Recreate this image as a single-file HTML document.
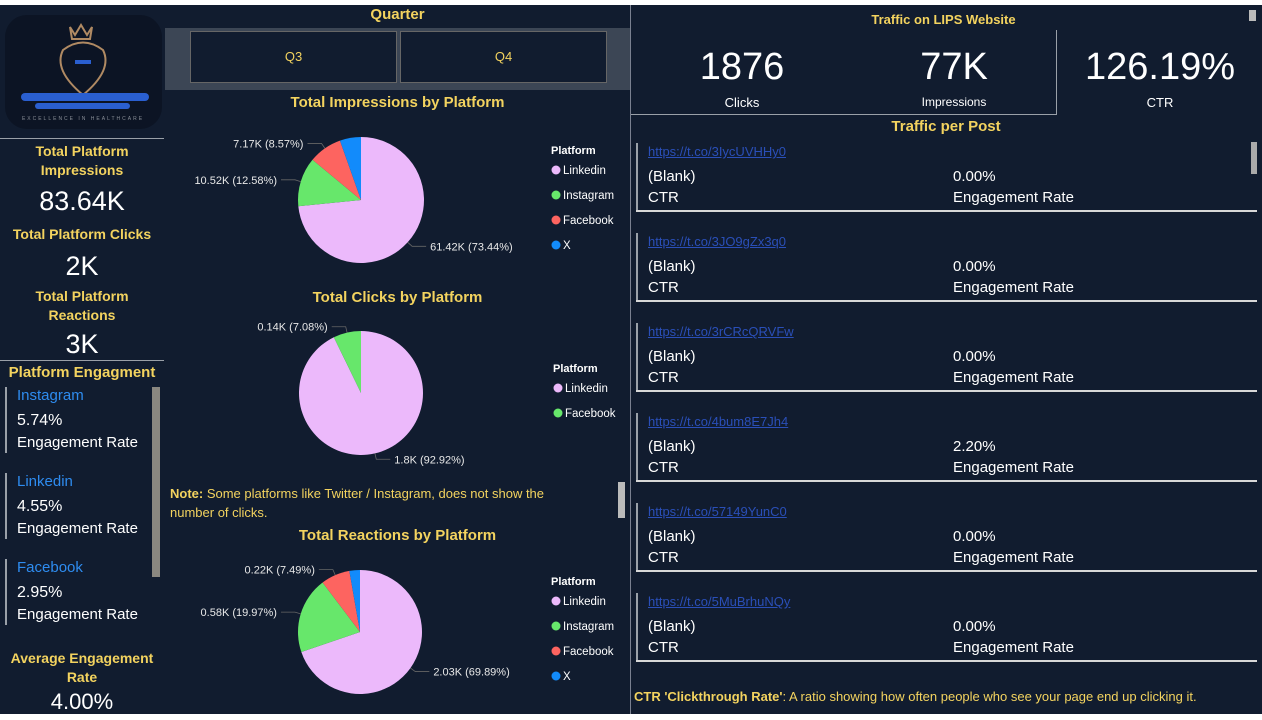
<!DOCTYPE html>
<html><head><meta charset="utf-8">
<style>
*{margin:0;padding:0;box-sizing:border-box}
body{width:1262px;height:720px;background:#fff;position:relative;overflow:hidden;font-family:"Liberation Sans","DejaVu Sans",sans-serif}
#bg{position:absolute;left:0;top:5px;width:1262px;height:709px;background:#111c2f}
.t{position:absolute;white-space:nowrap}
.y{color:#f3d35f;font-weight:bold}
.w{color:#fff}
.c{text-align:center}
.ln{position:absolute;background:#9aa0a8}
</style></head><body>
<div id="bg"></div>

<!-- left column -->
<div style="position:absolute;left:5px;top:15px;width:157px;height:114px;background:#0c1424;border-radius:22px">
 <svg width="157" height="114"><path d="M65 12 l5 8 l6 -10 l6 10 l5 -8 l-2 12 h-18z M58 35 q20 -15 40 0 q10 20 -20 45 q-30 -25 -20 -45z" fill="none" stroke="#b08a63" stroke-width="2"/><rect x="70" y="45" width="16" height="4" fill="#2a5fd0"/><rect x="16" y="78" width="128" height="8" rx="4" fill="#2a5fd0"/><rect x="30" y="88" width="95" height="6" rx="3" fill="#2a5fd0"/><text x="78" y="105" fill="#8a8f98" font-size="5" text-anchor="middle" letter-spacing="2">EXCELLENCE IN HEALTHCARE</text></svg>
</div>
<div class="ln" style="left:0;top:138px;width:164px;height:1px"></div>
<div class="t y c" style="left:0;top:142px;width:164px;font-size:14px;line-height:19px">Total Platform<br>Impressions</div>
<div class="t w c" style="left:0;top:186px;width:164px;font-size:27px">83.64K</div>
<div class="t y c" style="left:0;top:226px;width:164px;font-size:14px">Total Platform Clicks</div>
<div class="t w c" style="left:0;top:251px;width:164px;font-size:27px">2K</div>
<div class="t y c" style="left:0;top:287px;width:164px;font-size:14px;line-height:19px">Total Platform<br>Reactions</div>
<div class="t w c" style="left:0;top:329px;width:164px;font-size:27px">3K</div>
<div class="ln" style="left:0;top:360px;width:164px;height:1px"></div>
<div class="t y c" style="left:0;top:364px;width:164px;font-size:15px">Platform Engagment</div>
<div style="position:absolute;left:152px;top:387px;width:8px;height:190px;background:#8a8780"></div>

<div>
<div class="ln" style="left:5px;top:387px;width:2px;height:66px"></div>
<div class="t" style="left:17px;top:387px;font-size:15px;color:#2e8cf0">Instagram</div>
<div class="t w" style="left:17px;top:412px;font-size:16px">5.74%</div>
<div class="t w" style="left:17px;top:434px;font-size:15px">Engagement Rate</div></div>
<div>
<div class="ln" style="left:5px;top:473px;width:2px;height:66px"></div>
<div class="t" style="left:17px;top:473px;font-size:15px;color:#2e8cf0">Linkedin</div>
<div class="t w" style="left:17px;top:498px;font-size:16px">4.55%</div>
<div class="t w" style="left:17px;top:520px;font-size:15px">Engagement Rate</div></div>
<div>
<div class="ln" style="left:5px;top:559px;width:2px;height:66px"></div>
<div class="t" style="left:17px;top:559px;font-size:15px;color:#2e8cf0">Facebook</div>
<div class="t w" style="left:17px;top:584px;font-size:16px">2.95%</div>
<div class="t w" style="left:17px;top:606px;font-size:15px">Engagement Rate</div></div>
<div class="t y c" style="left:0;top:649px;width:164px;font-size:14px;line-height:19px">Average Engagement<br>Rate</div>
<div class="t w c" style="left:0;top:689px;width:164px;font-size:22px">4.00%</div>

<!-- middle -->
<div class="t y c" style="left:165px;top:6px;width:465px;font-size:15px">Quarter</div>
<div style="position:absolute;left:165px;top:28px;width:465px;height:62px;background:#3c4655"></div>
<div class="t c" style="left:190px;top:31px;width:207px;height:52px;line-height:50px;border:1px solid #666;background:#111c2f;color:#f3d35f;font-size:13px">Q3</div>
<div class="t c" style="left:400px;top:31px;width:207px;height:52px;line-height:50px;border:1px solid #666;background:#111c2f;color:#f3d35f;font-size:13px">Q4</div>
<div class="t y c" style="left:165px;top:94px;width:465px;font-size:15px">Total Impressions by Platform</div>
<div class="t y c" style="left:165px;top:289px;width:465px;font-size:15px">Total Clicks by Platform</div>
<div class="t y c" style="left:165px;top:527px;width:465px;font-size:15px">Total Reactions by Platform</div>
<div class="t" style="left:170px;top:484px;font-size:13px;line-height:19px;color:#f3d35f"><b>Note:</b> Some platforms like Twitter / Instagram, does not show the<br>number of clicks.</div>
<div style="position:absolute;left:618px;top:482px;width:7px;height:36px;background:#bbb"></div>
<svg id="pies" width="1262" height="720" style="position:absolute;left:0;top:0"></svg>

<!-- right -->
<div class="ln" style="left:630px;top:5px;width:1px;height:709px;background:#7a8090"></div>
<div class="t y c" style="left:631px;top:12px;width:625px;font-size:13px">Traffic on LIPS Website</div>
<div style="position:absolute;left:1249px;top:10px;width:7px;height:11px;background:#bbb"></div>
<div class="ln" style="left:1056px;top:30px;width:1px;height:84px"></div>
<div class="ln" style="left:631px;top:114px;width:426px;height:1px"></div>
<div class="t w c" style="left:650px;top:46px;width:184px;font-size:38px">1876</div>
<div class="t w c" style="left:650px;top:95px;width:184px;font-size:13px">Clicks</div>
<div class="t w c" style="left:862px;top:46px;width:184px;font-size:38px">77K</div>
<div class="t w c" style="left:862px;top:95px;width:184px;font-size:12px">Impressions</div>
<div class="t w c" style="left:1060px;top:46px;width:200px;font-size:38px">126.19%</div>
<div class="t w c" style="left:1060px;top:95px;width:200px;font-size:13px">CTR</div>
<div class="t y c" style="left:631px;top:118px;width:630px;font-size:15px">Traffic per Post</div>
<div style="position:absolute;left:1251px;top:142px;width:6px;height:32px;background:#aaa"></div>
<div id="posts"></div>
<div class="t" style="left:634px;top:689px;font-size:13px;color:#f3d35f"><b>CTR 'Clickthrough Rate'</b>: A ratio showing how often people who see your page end up clicking it.</div>

<script>
// pie data
const platforms = ["Linkedin","Instagram","Facebook","X"];
const colors = ["#ecb9fb","#67e76b","#fd6460","#128bfb"];
const impressionsValues = [61.42, 10.52, 7.17, 4.53];
const impressionsLabels = ["61.42K (73.44%)","10.52K (12.58%)","7.17K (8.57%)",""];
const clicksPlatforms = ["Linkedin","Facebook"];
const clicksValues = [1.8, 0.14];
const clicksLabels = ["1.8K (92.92%)","0.14K (7.08%)"];
const reactionsValues = [2.03, 0.58, 0.22, 0.08];
const reactionsLabels = ["2.03K (69.89%)","0.58K (19.97%)","0.22K (7.49%)",""];
const postLinks = ["https://t.co/3IycUVHHy0","https://t.co/3JO9gZx3q0","https://t.co/3rCRcQRVFw","https://t.co/4bum8E7Jh4","https://t.co/57149YunC0","https://t.co/5MuBrhuNQy"];
const postEngagement = ["0.00%","0.00%","0.00%","2.20%","0.00%","0.00%"];

const NS="http://www.w3.org/2000/svg";
const svg=document.getElementById('pies');
function mk(tag,attrs){const e=document.createElementNS(NS,tag);for(const k in attrs)e.setAttribute(k,attrs[k]);svg.appendChild(e);return e;}
function pie(cx,cy,r,vals,labels,cols,name){
  const tot=vals.reduce((a,b)=>a+b,0);let a0=0;
  vals.forEach((v,i)=>{
    const a1=a0+v/tot*2*Math.PI;
    const x0=cx+r*Math.sin(a0),y0=cy-r*Math.cos(a0),x1=cx+r*Math.sin(a1),y1=cy-r*Math.cos(a1);
    const p=mk('path',{d:`M${cx} ${cy} L${x0} ${y0} A${r} ${r} 0 ${a1-a0>Math.PI?1:0} 1 ${x1} ${y1}Z`,fill:cols[i]});
    
    
    if(labels[i]){
      const m=(a0+a1)/2,sx=Math.sin(m),sy=-Math.cos(m);
      const ex=cx+(r+6)*sx,ey=cy+(r+6)*sy,right=sx>=0;
      const lx=ex+(right?14:-14);
      mk('polyline',{points:`${cx+r*sx},${cy+r*sy} ${ex},${ey} ${lx},${ey}`,fill:'none',stroke:'#666','stroke-width':0.8});
      const t=mk('text',{x:lx+(right?4:-4),y:ey+4,fill:'#e8e8e8','font-size':11,'text-anchor':right?'start':'end','font-family':'Liberation Sans, sans-serif'});
      t.textContent=labels[i];
      
      
    }
    a0=a1;
  });
}
function legend(x,y,names,cols,name){
  const h=mk('text',{x:x,y:y,fill:'#fff','font-size':11,'font-weight':'bold','font-family':'Liberation Sans, sans-serif'});h.textContent='Platform';
  
  
  names.forEach((n,i)=>{
    const yy=y+20+i*25;
    mk('circle',{cx:x+5,cy:yy-4,r:4.5,fill:cols[i]});
    const t=mk('text',{x:x+12,y:yy,fill:'#fff','font-size':11.5,'font-family':'Liberation Sans, sans-serif'});t.textContent=n;
    
    
  });
}
pie(361,200,63,impressionsValues,impressionsLabels,colors,'impressions');
legend(551,154,platforms,colors,'impressions');
pie(361,393,62,clicksValues,clicksLabels,[colors[0],colors[1]],'clicks');
legend(553,372,clicksPlatforms,[colors[0],colors[1]],'clicks');
pie(360,632,62,reactionsValues,reactionsLabels,colors,'reactions');
legend(551,585,platforms,colors,'reactions');

const posts=document.getElementById('posts');
postLinks.forEach((l,i)=>{
  const y=143+i*90;
  const d=document.createElement('div');
  
  
  d.innerHTML=`<div class="ln" style="left:636px;top:${y}px;width:2px;height:67px"></div>
  <div class="t" style="left:648px;top:${y+1}px;font-size:13px;color:#2a4fb8;text-decoration:underline">${l}</div>
  <div class="t w" style="left:648px;top:${y+25}px;font-size:15px">(Blank)</div>
  <div class="t w" style="left:648px;top:${y+46}px;font-size:15px">CTR</div>
  <div class="t w" style="left:953px;top:${y+25}px;font-size:15px">${postEngagement[i]}</div>
  <div class="t w" style="left:953px;top:${y+46}px;font-size:15px">Engagement Rate</div>
  <div class="ln" style="left:636px;top:${y+67}px;width:621px;height:2px;background:#d8d8d8"></div>`;
  posts.appendChild(d);
});
</script>
</body></html>
